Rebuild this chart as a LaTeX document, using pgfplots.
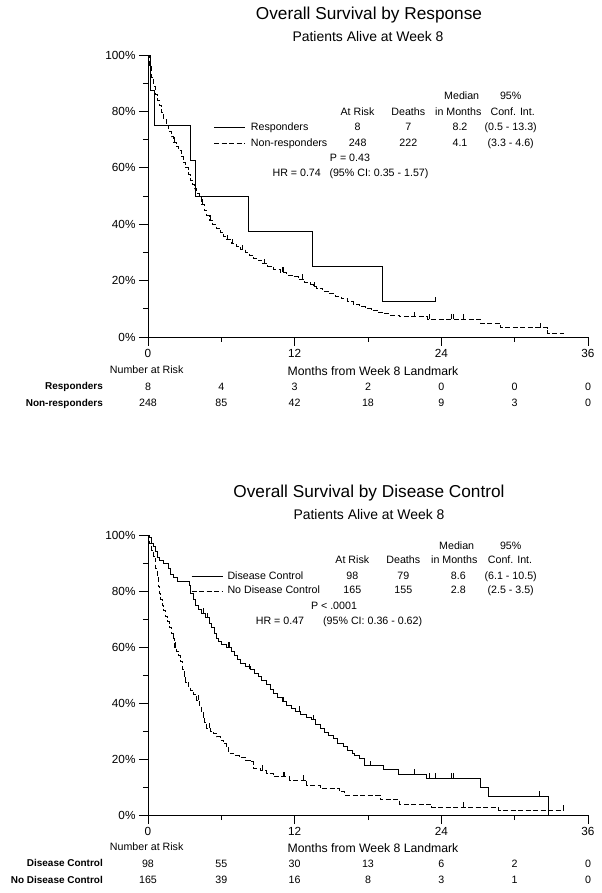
\documentclass[border=0pt]{standalone}
\usepackage{pgfplots}
\pgfplotsset{compat=1.18}
\usepackage{fontspec}
\setmainfont{Liberation Sans}
\pgfdeclareplotmark{cens}{\pgfpathmoveto{\pgfpoint{0pt}{0pt}}\pgfpathlineto{\pgfpoint{0pt}{5bp}}\pgfusepathqstroke}
\pgfplotsset{kmaxis/.style={
  scale only axis, width=440bp, xmin=0, xmax=36, ymin=0, ymax=100,
  axis lines*=left, axis line style={line width=0.8bp},
  xtick={0,12,24,36}, xticklabels={0,12,24,36}, minor xtick={6,18,30},
  ytick={0,20,40,60,80,100}, yticklabels={0\%,20\%,40\%,60\%,80\%,100\%},
  minor ytick={10,30,50,70,90},
  tick align=outside, major tick length=9bp, minor tick length=5bp,
  every tick/.style={line width=0.8bp, black},
  ticklabel style={font=\fontsize{11.8}{13}\selectfont},
  clip=false,
}}
\tikzset{sm/.style={font=\fontsize{10.7}{12}\selectfont, inner sep=0pt, text height=7.7bp, text depth=2.2bp},
  bl/.style={font=\fontsize{10}{12}\selectfont\bfseries, inner sep=0pt, anchor=east, text height=7.2bp, text depth=2.1bp},
  dsh/.style={dash pattern=on 5bp off 2.5bp}}
\begin{document}
\begin{tikzpicture}
\useasboundingbox (0,0) rectangle (602bp,893bp);
% ---------------- Top panel ----------------
\begin{axis}[kmaxis, height=282bp, at={(148bp,556bp)}, anchor=south west]
\addplot[const plot, line width=0.9bp] table {
t s
0 100
0.2 87.5
0.55 75
3.45 62.5
3.85 50
8.2 37.5
13.45 25
19.2 12.5
23.5 12.5
};
\addplot[only marks, mark=cens, mark options={line width=0.8bp}] table {
t s
23.5 12.5
};
\addplot[const plot, line width=0.9bp, dsh] table {
t s
0 100
0.15 96
0.3 92
0.45 89
0.6 86
0.75 84
0.9 82
1.1 79.5
1.3 77
1.5 75
1.7 73
1.9 71
2.1 69
2.3 67.5
2.5 66
2.7 64
2.9 62
3.1 60
3.3 57.5
3.45 55.5
3.6 54
3.8 52.5
4.0 51
4.2 49.5
4.35 47
4.6 45
4.8 43
5.0 41.5
5.3 40
5.6 38.5
5.9 37
6.2 35.5
6.45 34.5
6.8 33
7.2 32
7.6 31
8.0 30
8.3 29
8.6 28
9.0 27
9.4 26
9.8 25
10.3 24
10.8 23
11.3 22
11.8 21.3
12.3 20.5
12.8 19.5
13.3 18.5
13.5 17.8
13.8 17.3
14.3 16.3
14.8 15.3
15.3 14.3
15.8 13.5
16.3 12.5
16.8 11.6
17.3 10.8
17.8 10
18.3 9.4
18.8 8.8
19.3 8.3
19.8 7.7
20.6 7.2
22.9 6.3
27.2 4.9
28.8 3.3
32.7 1.4
34.0 1.4
};
\addplot[only marks, mark=cens, mark options={line width=0.8bp}] table {
t s
2.15 69
4.45 47
5.07 41.5
6.5 34.5
6.9 33
7.7 31
9.5 26
11.0 23
11.1 23
12.6 20.5
13.6 17.8
21.8 7.2
23.0 6.3
24.8 6.3
24.95 6.3
25.8 6.3
32.1 3.3
};
\end{axis}
% ---------------- Bottom panel ----------------
\begin{axis}[kmaxis, height=280bp, at={(148bp,78bp)}, anchor=south west]
\addplot[const plot, line width=0.9bp] table {
t s
0 100
0.15 99
0.3 97
0.45 96
0.6 94
0.75 92
0.9 91
1.3 90
1.7 88
1.85 86
2.1 85
2.4 83.5
3.4 82
3.5 79
3.7 77
3.9 75
4.1 73.5
4.4 72
4.7 70.5
5.0 68.5
5.2 67
5.4 65
5.6 63
5.8 62
6.0 61
6.4 60
6.8 58.5
7.1 57
7.3 55.5
7.6 54
8.0 53
8.4 52
8.7 50.5
9.0 49.5
9.3 48
9.7 46.5
10.0 45
10.3 43.5
10.6 42
11.0 40.5
11.3 39
11.7 38
12.1 37
12.5 36
13.0 35
13.4 34
13.7 32.5
14.1 31
14.4 29.5
14.8 28.5
15.2 27.4
15.5 25.6
16.0 24.4
16.3 23.2
16.7 22
16.9 21.4
17.3 20.2
17.75 17.6
19.25 16.1
20.5 14.6
22.8 13.1
27.2 9.8
27.85 6.8
32.8 0
};
\addplot[only marks, mark=cens, mark options={line width=0.8bp}] table {
t s
4.5 72
4.9 70.5
6.6 60
6.7 60
8.3 52
11.1 40.5
12.4 37
13.5 34
18.2 17.6
21.8 14.6
23.0 13.1
23.5 13.1
24.8 13.1
24.95 13.1
32.0 6.8
};
\addplot[const plot, line width=0.9bp, dsh] table {
t s
0 100
0.15 97
0.3 94.6
0.45 92.5
0.57 91
0.65 88
0.75 85
0.85 81.5
0.95 79
1.05 77
1.15 75
1.3 73
1.45 71
1.6 69
1.75 67
1.9 65
2.05 63
2.2 60
2.35 58.5
2.5 57
2.65 55
2.8 52
2.95 49.5
3.1 47.5
3.3 46
3.45 44.6
3.7 43
4.0 41
4.2 39
4.35 37
4.5 35
4.65 33
4.8 31
5.1 30
5.34 29.2
5.6 28
5.9 26.8
6.2 25.5
6.4 24.4
6.57 22
7.0 21.2
7.5 20.6
8.0 19.6
8.35 19
8.6 16.7
9.2 16
9.7 14.9
10.25 13.7
11.6 12.5
13.0 10.7
14.1 9.5
15.7 8.3
16.1 7.1
19.0 5.4
20.6 3.9
23.2 2.7
28.7 1.8
34.0 1.8
};
\addplot[only marks, mark=cens, mark options={line width=0.8bp}] table {
t s
2.1 63
2.25 60
4.1 41
5.0 31
9.4 16
11.1 13.7
11.2 13.7
12.7 12.5
25.8 2.7
34.0 1.8
};
\end{axis}
% ---------------- Texts (pixel coordinates, origin top-left) ----------------
\begin{scope}[shift={(0,893bp)}, x=1bp, y=-1bp]
% top titles
\node[font=\fontsize{17.3}{20}\selectfont, inner sep=0pt] at (369,15) {Overall Survival by Response};
\node[font=\fontsize{14}{16}\selectfont, inner sep=0pt] at (368,37) {Patients Alive at Week 8};
% top stats
\node[sm] at (461.7,96.7) {Median};
\node[sm] at (510.7,96.7) {95\%};
\node[sm] at (357.5,112.3) {At Risk};
\node[sm] at (408.3,112.3) {Deaths};
\node[sm] at (458.3,112.3) {in Months};
\node[sm] at (512.7,112.3) {Conf. Int.};
\draw[line width=0.9bp] (214,127.7) -- (245,127.7);
\node[sm, anchor=west] at (250.7,127.7) {Responders};
\node[sm] at (357.7,127.7) {8};
\node[sm] at (408.3,127.7) {7};
\node[sm] at (460,127.7) {8.2};
\node[sm] at (510.7,127.7) {(0.5 - 13.3)};
\draw[line width=0.9bp, dsh] (214,143.3) -- (245,143.3);
\node[sm, anchor=west] at (250.7,143.3) {Non-responders};
\node[sm] at (357.7,143.3) {248};
\node[sm] at (408.3,143.3) {222};
\node[sm] at (460,143.3) {4.1};
\node[sm] at (510.7,143.3) {(3.3 - 4.6)};
\node[sm] at (350,158.3) {P = 0.43};
\node[sm] at (296.7,173.3) {HR = 0.74};
\node[sm, anchor=west] at (329.3,173.3) {(95\% CI: 0.35 - 1.57)};
% top risk table
\node[sm] at (146.7,371) {Number at Risk};
\node[font=\fontsize{12.3}{14}\selectfont, inner sep=0pt] at (373,371) {Months from Week 8 Landmark};
\node[bl] at (103,387.3) {Responders};
\node[bl] at (103,404) {Non-responders};
\foreach \v [count=\i from 0] in {8,4,3,2,0,0,0} {\node[sm] at (148+73.33*\i,387.3) {\v};}
\foreach \v [count=\i from 0] in {248,85,42,18,9,3,0} {\node[sm] at (148+73.33*\i,404) {\v};}
% bottom titles
\node[font=\fontsize{17.3}{20}\selectfont, inner sep=0pt] at (369,492.7) {Overall Survival by Disease Control};
\node[font=\fontsize{14}{16}\selectfont, inner sep=0pt] at (369,514.3) {Patients Alive at Week 8};
% bottom stats
\node[sm] at (456.7,546.7) {Median};
\node[sm] at (510.7,546.7) {95\%};
\node[sm] at (352.3,561) {At Risk};
\node[sm] at (403.3,561) {Deaths};
\node[sm] at (454.3,561) {in Months};
\node[sm] at (510,561) {Conf. Int.};
\draw[line width=0.9bp] (191.7,576.7) -- (223.3,576.7);
\node[sm, anchor=west] at (227.3,576.7) {Disease Control};
\node[sm] at (352.3,576.7) {98};
\node[sm] at (403.3,576.7) {79};
\node[sm] at (458.3,576.7) {8.6};
\node[sm] at (510.7,576.7) {(6.1 - 10.5)};
\draw[line width=0.9bp, dsh] (191.7,591) -- (223.3,591);
\node[sm, anchor=west] at (227.3,591) {No Disease Control};
\node[sm] at (352.3,591) {165};
\node[sm] at (403.3,591) {155};
\node[sm] at (458.3,591) {2.8};
\node[sm] at (510.7,591) {(2.5 - 3.5)};
\node[sm] at (334,606.7) {P < .0001};
\node[sm] at (280,621.7) {HR = 0.47};
\node[sm, anchor=west] at (323,621.7) {(95\% CI: 0.36 - 0.62)};
% bottom risk table
\node[sm] at (146.7,848) {Number at Risk};
\node[font=\fontsize{12.3}{14}\selectfont, inner sep=0pt] at (373,848) {Months from Week 8 Landmark};
\node[bl] at (103,864.3) {Disease Control};
\node[bl] at (103,881) {No Disease Control};
\foreach \v [count=\i from 0] in {98,55,30,13,6,2,0} {\node[sm] at (148+73.33*\i,864.3) {\v};}
\foreach \v [count=\i from 0] in {165,39,16,8,3,1,0} {\node[sm] at (148+73.33*\i,881) {\v};}
\end{scope}
\end{tikzpicture}
\end{document}
